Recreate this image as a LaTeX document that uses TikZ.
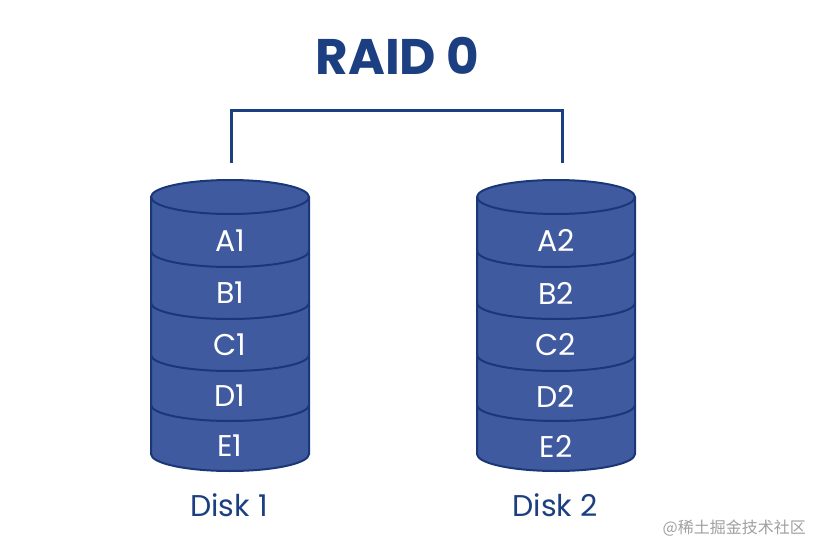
\documentclass[tikz,border=0pt]{standalone}
\usepackage{fontspec}
\setmainfont{Poppins}
\newfontfamily\cjk{Noto Sans CJK SC}
\definecolor{diskfill}{RGB}{64,90,160}
\definecolor{diskline}{RGB}{26,56,120}
\definecolor{titleblue}{RGB}{27,63,128}
\definecolor{wmgray}{RGB}{160,160,160}
\tikzset{
  diskedge/.style={draw=diskline, line width=2pt},
  layertext/.style={text=white, font=\fontsize{30}{30}\selectfont, inner sep=0pt, anchor=center},
  disklabel/.style={text=titleblue, font=\fontsize{30}{30}\selectfont, inner sep=0pt, anchor=center},
  bracket/.style={draw=titleblue, line width=3pt}
}
\newcommand{\mydisk}[4]{% center x, name, index, bracket x
  \fill[diskfill] (#1-79,197) -- (#1-79,454) arc[start angle=180, end angle=360, x radius=79pt, y radius=17pt]
     -- (#1+79,197) arc[start angle=0, end angle=180, x radius=79pt, y radius=17pt] -- cycle;
  \draw[diskedge] (#1,197) ellipse[x radius=79pt, y radius=17pt];
  \draw[diskedge] (#1-79,197) -- (#1-79,454) arc[start angle=180, end angle=360, x radius=79pt, y radius=17pt] -- (#1+79,197);
  \foreach \yy in {251,303,355,405}{
    \draw[diskedge] (#1-79,\yy) arc[start angle=180, end angle=360, x radius=79pt, y radius=16pt];
  }
  \coordinate (#2top) at (#4,163);
  \node[layertext] (#2a) at (#1,240.5) {A#3};
  \node[layertext] (#2b) at (#1,293) {B#3};
  \node[layertext] (#2c) at (#1,345) {C#3};
  \node[layertext] (#2d) at (#1,396) {D#3};
  \node[layertext] (#2e) at (#1,446) {E#3};
  \node[disklabel] (#2lab) at (#1-1,505.5) {Disk #3};
}
\begin{document}
\begin{tikzpicture}[x=1pt,y=-1pt]
\useasboundingbox (0,0) rectangle (823,554);
\fill[white] (0,0) rectangle (823,554);
\node[text=titleblue, font=\fontsize{50}{50}\selectfont\bfseries, inner sep=0pt] (title) at (397.5,56) {RAID 0};
\mydisk{230}{dA}{1}{231}
\mydisk{556}{dB}{2}{562}
\draw[bracket] (dAtop) -- ++(0,-53) -| (dBtop);
\node[text=wmgray, font=\cjk\fontsize{16}{16}\selectfont, inner sep=0pt, anchor=east] (wm) at (806,528) {@稀土掘金技术社区};
\end{tikzpicture}
\end{document}
